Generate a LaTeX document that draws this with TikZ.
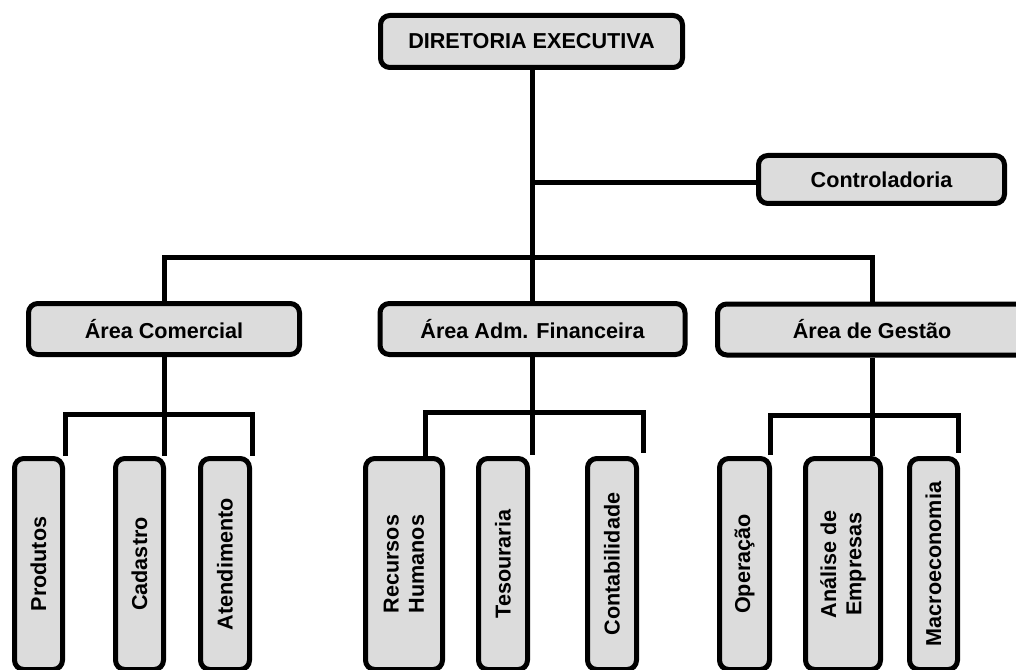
\documentclass[tikz,border=0pt]{standalone}
\usepackage{fontspec}
\setmainfont{Liberation Sans}
\definecolor{boxgray}{HTML}{DCDCDC}
\begin{document}
\begin{tikzpicture}[x=0.75pt,y=-0.75pt,
  box/.style={draw=black, line width=3.75pt, fill=boxgray, rounded corners=7pt,
    inner sep=0pt, align=center, font=\bfseries\fontsize{16.2}{19}\selectfont},
  leaf/.style={box, minimum height=158.25pt},
  lbl/.style={rotate=90, inner sep=0pt, align=center,
    font=\bfseries\fontsize{16.2}{19}\selectfont},
  wire/.style={draw=black, line width=3.75pt}]
\useasboundingbox (0,0) rectangle (1016,670);
\clip (0,0) rectangle (1016,670);

% top level
\node[box, minimum width=226.5pt, minimum height=39pt] (dir) at (531.5,41.5) {DIRETORIA EXECUTIVA};
\node[box, minimum width=184.5pt, minimum height=36pt] (ctrl) at (881.5,179.5) {Controladoria};

% areas
\node[box, minimum width=203.25pt, minimum height=38.25pt] (com) at (164,329) {Área Comercial};
\node[box, minimum width=228.75pt, minimum height=38.25pt] (fin) at (532.5,329) {Área Adm. Financeira};
\node[box, minimum width=231.75pt, minimum height=38.25pt] (ges) at (872,329.5) {Área de Gestão};

% departments
\node[leaf, minimum width=36pt]    (prod)  at (38.5,564) {};
\node[lbl] (prodt) at (prod) {Produtos};
\node[leaf, minimum width=36pt]    (cad)   at (139.5,564) {};
\node[lbl] (cadt) at (cad) {Cadastro};
\node[leaf, minimum width=36.75pt] (aten)  at (225,564) {};
\node[lbl] (atent) at (aten) {Atendimento};

\node[leaf, minimum width=57.75pt] (rh)    at (404,564) {};
\node[lbl] (rht) at (rh) {Recursos\\Humanos};
\node[leaf, minimum width=36.75pt] (tes)   at (503,564) {};
\node[lbl] (test) at (tes) {Tesouraria};
\node[leaf, minimum width=36.75pt] (cont)  at (612,564) {};
\node[lbl] (contt) at (cont) {Contabilidade};

\node[leaf, minimum width=37.5pt]  (oper)  at (744.5,564) {};
\node[lbl] (opert) at (oper) {Operação};
\node[leaf, minimum width=56.25pt] (anal)  at (843,564) {};
\node[lbl] (analt) at (anal) {Análise de\\Empresas};
\node[leaf, minimum width=36pt]    (macro) at (933.5,564) {};
\node[lbl] (macrot) at (macro) {Macroeconomia};

% junction points and free ends
\coordinate (cj)   at (532.5,183);
\coordinate (abar) at (0,257);
\coordinate (cbar) at (0,414);
\coordinate (fbar) at (0,412);
\coordinate (gbar) at (0,415);
\coordinate (fend) at (643,453);
\coordinate (gl)   at (770,455);
\coordinate (gr)   at (958,453);

% trunk and staff branch
\draw[wire] (dir.south -| fin.north) -- (fin.north);
\draw[wire] (cj) -- (cj -| ctrl.west);
\draw[wire] (com.north) -- (com.north |- abar) -| (ges.north);

% commercial area
\draw[wire] (com.south) -- ++(0,98.5);
\draw[wire] (prod.north east) -- (prod.north east |- cbar) -| (aten.north east);

% administrative and financial area
\draw[wire] (fin.south) -- ++(0,98);
\draw[wire] ([xshift=15.75pt]rh.north) |- (fend |- fbar) -- (fend);

% management area
\draw[wire] (ges.south) -- (ges.south |- anal.north);
\draw[wire] (gl) |- (gr |- gbar) -- (gr);
\end{tikzpicture}
\end{document}
